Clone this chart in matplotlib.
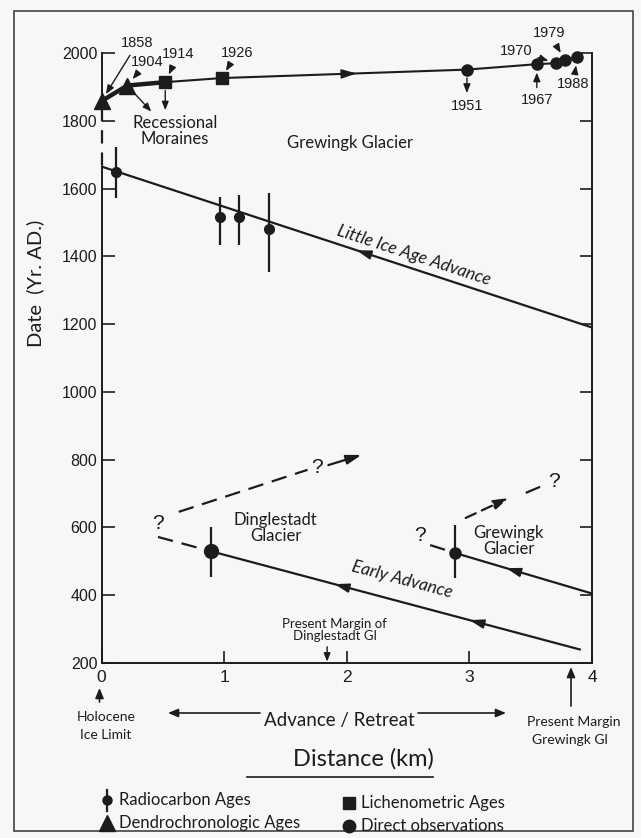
import numpy as np
import matplotlib.pyplot as plt
from matplotlib.patches import Rectangle
from matplotlib.lines import Line2D

W, H = 641, 838
BG = "#f7f7f5"
INK = "#1c1c1c"
NARROW = ["Lato", "DejaVu Sans"]
PLAIN = ["Liberation Sans", "DejaVu Sans"]

# historic positions of the Grewingk terminus
hist_years = [1858, 1904, 1914, 1926, 1951, 1967, 1970, 1979, 1988]
hist_dist = [0.0, 0.21, 0.52, 0.98, 2.98, 3.55, 3.71, 3.78, 3.88]
hist_kind = ["dendro", "dendro", "lichen", "lichen",
             "direct", "direct", "direct", "direct", "direct"]

# Little Ice Age advance
lia_dist = [0.0, 4.0]
lia_years = [1665, 1190]
c14_dist = [0.12, 0.97, 1.12, 1.37]
c14_years = [1650, 1515, 1515, 1480]
c14_low = [1572, 1433, 1433, 1354]
c14_high = [1723, 1575, 1581, 1587]

# early advance, Dinglestadt Glacier
ding_dist = [0.89, 3.9]
ding_years = [530, 240]
ding_err = [454, 601]
ding_dash_dist = [0.46, 0.89]
ding_dash_years = [572, 530]
ding_up_dist = [0.63, 1.68]
ding_up_years = [646, 770]
ding_arrow_dist = [1.85, 2.12]
ding_arrow_years = [784, 814]
ding_margin = 1.84

# early advance, Grewingk Glacier
grew_dist = [2.88, 4.0]
grew_years = [525, 405]
grew_err = [451, 607]
grew_dash_dist = [2.68, 2.88]
grew_dash_years = [548, 525]
grew_arrow_dist = [2.97, 3.32]
grew_arrow_years = [628, 687]
grew_up_dist = [3.46, 3.61]
grew_up_years = [702, 725]

yticks = list(range(200, 2001, 200))
xticks = [0, 1, 2, 3, 4]


def F(px, py):
    return px / W, 1 - py / H


fig = plt.figure(figsize=(W / 100, H / 100), dpi=100, facecolor=BG)
ax = fig.add_axes([101.5 / W, 1 - 663 / H, (592 - 101.5) / W, (663 - 53) / H])
ax.set_facecolor(BG)
ax.set_xlim(0, 4)
ax.set_ylim(200, 2000)

for s in ["top", "left"]:
    ax.spines[s].set_visible(False)
for s in ["bottom", "right"]:
    ax.spines[s].set_linewidth(1.4)
    ax.spines[s].set_color(INK)
# left axis line: dashed between the LIA start and the 1858 moraine
ax.plot([0, 0], [200, lia_years[0]], color=INK, lw=1.4, clip_on=False)
ax.plot([0, 0], [hist_years[0], 2000], color=INK, lw=1.4, clip_on=False)
ax.plot([0, 0], [hist_years[0] - 20, lia_years[0]], color=INK, lw=1.6,
        dashes=(6, 4), clip_on=False)

ax.set_yticks(yticks)
ax.set_xticks(xticks)
ax.tick_params(direction="in", length=9, width=1.2, right=True, colors=INK)
ax.tick_params(axis="y", labelsize=11.5, pad=3)
ax.tick_params(axis="x", labelsize=12.5, pad=5)
for lab in ax.get_xticklabels() + ax.get_yticklabels():
    lab.set_family(PLAIN)

fig.text(*F(35, 283), "Date  (Yr. AD.)", rotation=90, ha="center", va="center",
         fontsize=14.5, family=NARROW, color=INK)


def line_arrow(xs, ys, at, left=True):
    d = 0.06 if left else -0.06
    ax.annotate("", xy=(at, np.interp(at, xs, ys)),
                xytext=(at + d, np.interp(at + d, xs, ys)),
                arrowprops=dict(arrowstyle="-|>,head_length=0.9,head_width=0.28",
                                color=INK, lw=1.2, shrinkA=0, shrinkB=0))


# ---- upper Grewingk sequence
ax.plot(hist_dist, hist_years, color=INK, lw=1.5, zorder=3)
ax.plot(hist_dist[:3], hist_years[:3], color=INK, lw=3.2, zorder=3)
style = {"dendro": ("^", 12), "lichen": ("s", 8.5), "direct": ("o", 8)}
for d, y, k in zip(hist_dist, hist_years, hist_kind):
    m, ms = style[k]
    ax.plot(d, y, marker=m, ms=ms, color=INK, ls="none", zorder=4, clip_on=False)
line_arrow(hist_dist[3:5], hist_years[3:5], 2.08, left=False)

label_off = [(36, 58), (20, 24), (13, 28), (15, 25), (0, -36),
             (0, -36), (-40, 12), (-16, 27), (-4, -27)]
for d, y, off in zip(hist_dist, hist_years, label_off):
    head = "<|-" if y in (1951,) else "-|>"
    ax.annotate(str(y), xy=(d, y), xytext=off, textcoords="offset pixels",
                ha="center", va="center", fontsize=10.5, family=PLAIN, color=INK,
                arrowprops=dict(arrowstyle=head + ",head_length=0.5,head_width=0.2",
                                color=INK, lw=1.0, shrinkA=2, shrinkB=6))

# recessional moraine arrows
for i, off in [(1, (24, -26)), (2, (0, -28))]:
    ax.annotate("", xy=(hist_dist[i], hist_years[i]), xytext=off,
                textcoords="offset pixels",
                arrowprops=dict(arrowstyle="<|-,head_length=0.5,head_width=0.2",
                                color=INK, lw=1.0, shrinkA=0, shrinkB=6))
ax.text(0.6, 1770, "Recessional\nMoraines", ha="center", va="center",
        fontsize=12, family=NARROW, color=INK, linespacing=1.05)
ax.text(2.03, 1735, "Grewingk Glacier", ha="center", va="center",
        fontsize=12, family=NARROW, color=INK)

# ---- Little Ice Age
ax.plot(lia_dist, lia_years, color=INK, lw=1.6)
line_arrow(lia_dist, lia_years, 2.08)
ax.errorbar(c14_dist, c14_years,
            yerr=[np.subtract(c14_years, c14_low), np.subtract(c14_high, c14_years)],
            fmt="o", ms=7, color=INK, elinewidth=1.6, capsize=0, zorder=4)


def screen_angle(xs, ys):
    p = ax.transData.transform(np.column_stack([xs, ys]))
    return np.degrees(np.arctan2(p[1, 1] - p[0, 1], p[1, 0] - p[0, 0]))


ax.text(2.55, 1404, "Little Ice Age Advance", rotation=screen_angle(lia_dist, lia_years),
        rotation_mode="anchor", ha="center", va="center", fontsize=12.5,
        style="italic", family=NARROW, color=INK)

# ---- early advance, Dinglestadt
ax.plot(ding_dist, ding_years, color=INK, lw=1.6)
line_arrow(ding_dist, ding_years, 1.9)
line_arrow(ding_dist, ding_years, 3.0)
ax.errorbar([ding_dist[0]], [ding_years[0]],
            yerr=[[ding_years[0] - ding_err[0]], [ding_err[1] - ding_years[0]]],
            fmt="o", ms=10, color=INK, elinewidth=1.6, capsize=0, zorder=4)
ax.plot(ding_dash_dist, ding_dash_years, color=INK, lw=1.6, dashes=(7, 4))
ax.plot(ding_up_dist, ding_up_years, color=INK, lw=1.6, dashes=(7, 4))
ax.annotate("", xy=(ding_arrow_dist[1], ding_arrow_years[1]),
            xytext=(ding_arrow_dist[0], ding_arrow_years[0]),
            arrowprops=dict(arrowstyle="-|>,head_length=0.9,head_width=0.28",
                            color=INK, lw=1.6, shrinkA=0, shrinkB=0))
ax.text(0.46, 613, "?", ha="center", va="center", fontsize=15, family=PLAIN, color=INK)
ax.text(1.76, 778, "?", ha="center", va="center", fontsize=15, family=PLAIN, color=INK)
ax.text(1.42, 598, "Dinglestadt\nGlacier", ha="center", va="center",
        fontsize=12, family=NARROW, color=INK, linespacing=1.05)
ax.text(2.45, 445, "Early Advance", rotation=screen_angle(ding_dist, ding_years),
        rotation_mode="anchor", ha="center", va="center", fontsize=12.5,
        style="italic", family=NARROW, color=INK)

# ---- early advance, Grewingk
ax.plot(grew_dist, grew_years, color=INK, lw=1.6)
line_arrow(grew_dist, grew_years, 3.3)
ax.errorbar([grew_dist[0]], [grew_years[0]],
            yerr=[[grew_years[0] - grew_err[0]], [grew_err[1] - grew_years[0]]],
            fmt="o", ms=8, color=INK, elinewidth=1.6, capsize=0, zorder=4)
ax.plot(grew_dash_dist, grew_dash_years, color=INK, lw=1.6, dashes=(7, 4))
ax.plot(grew_up_dist, grew_up_years, color=INK, lw=1.6, dashes=(7, 4))
ax.annotate("", xy=(grew_arrow_dist[1], grew_arrow_years[1]),
            xytext=(grew_arrow_dist[0], grew_arrow_years[0]),
            arrowprops=dict(arrowstyle="-|>,head_length=0.9,head_width=0.28",
                            color=INK, lw=1.6, shrinkA=0, shrinkB=0, linestyle=(0, (5, 3))))
ax.text(2.6, 577, "?", ha="center", va="center", fontsize=15, family=PLAIN, color=INK)
ax.text(3.69, 736, "?", ha="center", va="center", fontsize=15, family=PLAIN, color=INK)
ax.text(3.32, 560, "Grewingk\nGlacier", ha="center", va="center",
        fontsize=12, family=NARROW, color=INK, linespacing=1.05)

# present margin of Dinglestadt
ax.text(1.9, 296, "Present Margin of\nDinglestadt Gl", ha="center", va="center",
        fontsize=9.5, family=NARROW, color=INK, linespacing=1.0)
ax.annotate("", xy=(ding_margin, 200), xytext=(ding_margin, 248),
            arrowprops=dict(arrowstyle="-|>,head_length=0.5,head_width=0.2",
                            color=INK, lw=1.0, shrinkA=0, shrinkB=1))

# ---- annotations below the axis
arrow_kw = dict(arrowstyle="-|>,head_length=0.6,head_width=0.25", color=INK, lw=1.2,
                shrinkA=0, shrinkB=0)
for tail, tip in [((99.5, 702), (99.5, 688)), ((571, 706), (571, 667)),
                  ((260, 713), (168, 713)), ((418, 713), (506, 713))]:
    ax.annotate("", xy=F(*tip), xytext=F(*tail), xycoords="figure fraction",
                textcoords="figure fraction", arrowprops=arrow_kw, annotation_clip=False)
fig.text(*F(106, 717), "Holocene", ha="center", va="center", fontsize=10,
         family=NARROW, color=INK)
fig.text(*F(106, 735), "Ice Limit", ha="center", va="center", fontsize=10,
         family=NARROW, color=INK)
fig.text(*F(574, 722), "Present Margin", ha="center", va="center", fontsize=10,
         family=NARROW, color=INK)
fig.text(*F(570, 740), "Grewingk Gl", ha="center", va="center", fontsize=10,
         family=NARROW, color=INK)
fig.text(*F(339, 720), "Advance / Retreat", ha="center", va="center", fontsize=13.5,
         family=NARROW, color=INK)
fig.text(*F(363, 759), "Distance (km)", ha="center", va="center", fontsize=17,
         family=NARROW, color=INK)
fig.add_artist(Line2D([247 / W, 433 / W], [1 - 777 / H] * 2, color=INK, lw=1.2))

# ---- legend
fig.add_artist(Line2D([107 / W] * 2, [1 - 790 / H, 1 - 811 / H], color=INK, lw=1.6))
fig.add_artist(Line2D([107 / W], [1 - 800 / H], marker="o", ms=6.5, color=INK))
fig.add_artist(Line2D([107 / W], [1 - 823 / H], marker="^", ms=11, color=INK))
fig.add_artist(Line2D([349 / W], [1 - 803 / H], marker="s", ms=9, color=INK))
fig.add_artist(Line2D([349 / W], [1 - 826 / H], marker="o", ms=9, color=INK))
for px, py, txt in [(119, 800, "Radiocarbon Ages"), (119, 823, "Dendrochronologic Ages"),
                    (361, 803, "Lichenometric Ages"), (361, 826, "Direct observations")]:
    fig.text(*F(px, py), txt, ha="left", va="center", fontsize=12,
             family=NARROW, color=INK)

# outer frame of the figure
fig.add_artist(Rectangle(F(14, 831), (633 - 14) / W, (831 - 11) / H,
                         transform=fig.transFigure, fill=False, lw=1.2, ec="#444444"))

fig.savefig("out.png", dpi=100, facecolor=BG)
